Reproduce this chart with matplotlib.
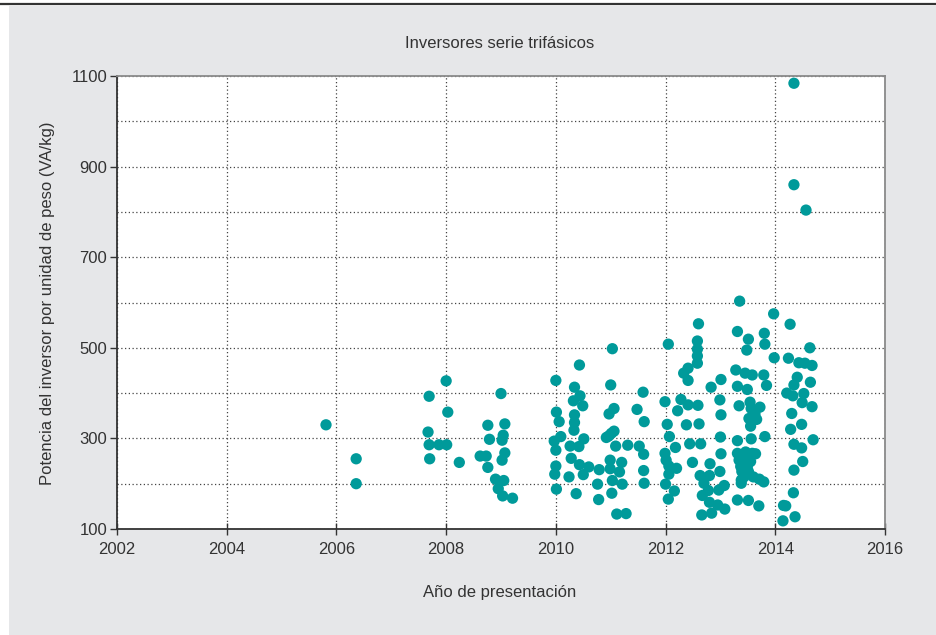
#!/usr/bin/env python3
import matplotlib

matplotlib.use("Agg")
import matplotlib.pyplot as plt
from matplotlib.patches import Rectangle
from matplotlib.lines import Line2D
from matplotlib.ticker import MultipleLocator

plt.rcParams["font.family"] = ["Liberation Sans", "DejaVu Sans"]

title = "Inversores serie trifásicos"
x_label = "Año de presentación"
y_label = "Potencia del inversor por unidad de peso (VA/kg)"

x_ticks = [2002, 2004, 2006, 2008, 2010, 2012, 2014, 2016]
y_ticks = [100, 300, 500, 700, 900, 1100]

# año de presentación / potencia específica
years_2005_2009 = [
    2005.81, 2006.36, 2006.36, 2007.69, 2008.00, 2009.00, 2008.03, 2007.67,
    2008.76, 2009.07, 2008.79, 2009.04, 2009.02, 2007.69, 2007.87, 2008.01,
    2009.07, 2009.02, 2007.70, 2008.24, 2008.62, 2008.73, 2008.76, 2008.90,
    2009.05, 2008.95, 2009.03, 2009.21,
]
power_2005_2009 = [
    330, 255, 200, 393, 427, 399, 358, 314,
    329, 332, 298, 307, 296, 286, 286, 286,
    268, 252, 255, 247, 261, 261, 236, 210,
    207, 189, 173, 168,
]

years_2010_2011 = [
    2011.03, 2010.43, 2010.00, 2010.34, 2011.00, 2011.59, 2010.44, 2010.32,
    2010.49, 2011.06, 2010.97, 2011.48, 2010.01, 2010.06, 2010.34, 2010.34,
    2011.61, 2010.33, 2011.06, 2011.01, 2010.96, 2010.92, 2010.09, 2010.51,
    2009.97, 2010.00, 2010.26, 2010.42, 2011.09, 2011.31, 2011.52, 2011.60,
    2010.28, 2010.99, 2011.20, 2010.00, 2010.43, 2010.60, 2010.79, 2010.99,
    2011.16, 2011.60, 2009.98, 2010.24, 2010.50, 2011.03, 2010.76, 2011.21,
    2011.61, 2010.01, 2010.37, 2011.02, 2010.78, 2011.11, 2011.28,
]
power_2010_2011 = [
    498, 462, 428, 413, 418, 402, 394, 383,
    372, 366, 354, 364, 358, 337, 352, 335,
    337, 318, 316, 311, 305, 302, 304, 299,
    294, 274, 283, 282, 283, 285, 283, 265,
    256, 252, 247, 239, 242, 237, 231, 233,
    226, 229, 221, 215, 220, 207, 199, 199,
    201, 188, 178, 179, 165, 133, 134,
]

years_2012_2013 = [
    2012.60, 2012.05, 2012.58, 2012.58, 2012.58, 2012.58, 2012.41, 2012.33,
    2012.41, 2013.01, 2012.83, 2011.99, 2012.28, 2012.41, 2012.59, 2012.22,
    2012.99, 2013.01, 2012.03, 2012.38, 2012.61, 2012.07, 2013.00, 2012.44,
    2012.64, 2012.18, 2011.99, 2012.01, 2013.01, 2012.49, 2012.81, 2012.06,
    2012.06, 2012.20, 2012.99, 2012.63, 2012.80, 2012.70, 2012.78, 2012.00,
    2013.07, 2012.97, 2012.16, 2012.05, 2012.67, 2012.80, 2012.95, 2013.08,
    2012.66, 2012.84,
]
power_2012_2013 = [
    553, 508, 515, 497, 482, 466, 455, 444,
    428, 430, 413, 381, 386, 374, 373, 361,
    385, 352, 331, 330, 332, 304, 303, 288,
    288, 280, 267, 252, 266, 247, 244, 239,
    221, 234, 227, 218, 218, 201, 185, 199,
    196, 186, 184, 166, 174, 159, 153, 144,
    131, 135,
]

years_2013_2014 = [
    2013.35, 2013.97, 2014.27, 2013.31, 2013.80, 2013.51, 2013.81, 2013.48,
    2014.63, 2013.98, 2014.24, 2014.43, 2014.54, 2014.67, 2013.28, 2013.45,
    2013.58, 2013.79, 2014.40, 2013.31, 2013.49, 2013.84, 2014.34, 2014.64,
    2014.21, 2014.32, 2014.52, 2014.49, 2014.67, 2013.34, 2013.54, 2013.56,
    2013.72, 2013.63, 2013.52, 2013.66, 2013.55, 2014.30, 2014.48, 2014.28,
    2013.31, 2013.56, 2013.81, 2014.69, 2014.34, 2014.48, 2013.31, 2013.46,
    2013.58, 2013.64, 2013.34, 2013.46, 2013.55, 2013.37, 2013.49, 2013.39,
    2013.51, 2013.43, 2013.60, 2013.71, 2013.79, 2013.38, 2014.50, 2014.34,
    2013.38, 2014.33, 2013.31, 2013.51, 2013.70, 2014.15, 2014.19, 2014.36,
    2014.14, 2014.34, 2014.34, 2014.56,
]
power_2013_2014 = [
    603, 575, 552, 536, 532, 519, 508, 495,
    500, 478, 477, 467, 466, 461, 451, 444,
    440, 440, 435, 415, 408, 417, 418, 424,
    400, 394, 399, 379, 370, 372, 380, 366,
    369, 354, 344, 342, 327, 355, 331, 320,
    295, 299, 304, 297, 287, 279, 267, 270,
    267, 266, 252, 252, 249, 238, 238, 227,
    227, 215, 215, 210, 204, 201, 249, 230,
    208, 180, 164, 163, 151, 152, 151, 127,
    118, 1084, 860, 804,
]

years = years_2005_2009 + years_2010_2011 + years_2012_2013 + years_2013_2014
power = power_2005_2009 + power_2010_2011 + power_2012_2013 + power_2013_2014

W, H = 937, 635
fig = plt.figure(figsize=(W / 100, H / 100), dpi=100)
fig.patch.set_facecolor("white")

# panel gris y filete superior
fig.add_artist(Rectangle((9 / W, 0), 1 - 9 / W, 1 - 6 / H, transform=fig.transFigure,
                         facecolor="#e6e7e9", edgecolor="none", zorder=-10))
fig.add_artist(Line2D([0, 1], [1 - 4 / H, 1 - 4 / H], transform=fig.transFigure,
                      color="#333333", linewidth=1.6))

ax = fig.add_axes([117 / W, 1 - 529 / H, (885 - 117) / W, (529 - 76) / H])
ax.set_facecolor("white")

ax.scatter(years, power, s=66, color="#009a9a", edgecolors="none", zorder=3)

ax.set_xlim(2002, 2016)
ax.set_ylim(100, 1100)
ax.set_xticks(x_ticks)
ax.set_yticks(y_ticks)
ax.yaxis.set_minor_locator(MultipleLocator(100))
ax.grid(True, which="both", color="#444444", linestyle=(0, (1, 2)), linewidth=0.9, zorder=1)
ax.set_axisbelow(True)

ax.tick_params(axis="x", which="major", direction="inout", length=8, width=1,
               color="#333333", labelsize=12, labelcolor="#333333", pad=5)
ax.tick_params(axis="y", which="major", direction="out", length=5, width=1,
               color="#333333", labelsize=12, labelcolor="#333333", pad=2)
ax.tick_params(axis="y", which="minor", length=0)

for side in ("left", "bottom"):
    ax.spines[side].set_color("#333333")
    ax.spines[side].set_linewidth(1.3)
for side in ("top", "right"):
    ax.spines[side].set_color("#8a8a8a")
    ax.spines[side].set_linewidth(1.3)

fig.text(500 / W, 1 - 44 / H, title, ha="center", va="center", fontsize=12, color="#333333")
fig.text(500 / W, 1 - 592 / H, x_label, ha="center", va="center", fontsize=12, color="#333333")
fig.text(48 / W, 1 - 303 / H, y_label, ha="center", va="center", rotation=90,
         fontsize=12, color="#333333")

fig.savefig("out.png", dpi=100)
plt.close(fig)
